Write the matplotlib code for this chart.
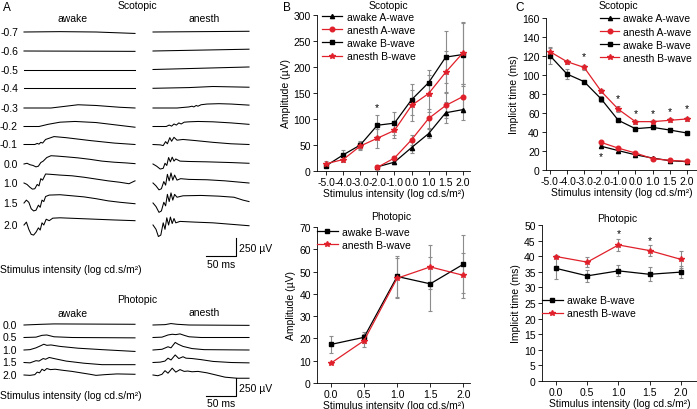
import matplotlib
matplotlib.use('Agg')
import matplotlib.pyplot as plt
from matplotlib.transforms import Affine2D

plt.rcParams['font.family'] = ['Liberation Sans', 'DejaVu Sans']
plt.rcParams['font.size'] = 7.5

# ---------- данные: ERG кривые (мс, мкВ) ----------
scot_rows = ['-0.7', '-0.6', '-0.5', '-0.4', '-0.3', '-0.2', '-0.1', '0.0', '1.0', '1.5', '2.0']
scot_awake_traces = [
    [(0, 0), (60, 5), (120, 0), (185, -20)],
    [(0, 0), (185, -5)],
    [(0, 0), (185, 0)],
    [(0, 0), (185, 0)],
    [(0, 0), (45, 0), (70, 25), (90, 45), (120, 35), (160, 10), (185, 0)],
    [(0, 0), (25, 0), (40, 30), (60, 60), (85, 70), (120, 55), (160, 15), (185, -10)],
    [(0, 0), (18, 0), (22, 15), (25, 5), (28, 30), (31, 20), (36, 70), (50, 110), (70, 95), (110, 55), (150, 20), (185, 0)],
    [(0, 0), (5, 10), (10, -10), (15, -20), (20, -40), (24, -30), (28, 20), (32, 40), (38, 90), (45, 115), (55, 110),
     (70, 100), (90, 85), (110, 65), (130, 40), (150, 25), (170, 15), (185, 5)],
    [(0, 0), (5, -20), (10, -60), (14, -85), (18, -80), (22, -20), (25, -40), (28, 60), (31, 40), (36, 125), (45, 120),
     (60, 110), (80, 100), (100, 80), (120, 55), (140, 30), (160, 10), (175, -10), (180, 10), (185, 30)],
    [(0, 0), (4, 40), (8, 10), (12, -80), (16, -110), (20, -100), (24, -30), (27, -60), (30, 40), (33, 20), (36, 90),
     (42, 110), (60, 115), (80, 100), (100, 85), (120, 60), (140, 30), (160, 10), (185, -10)],
    [(0, 0), (4, 40), (8, -60), (12, -130), (16, -140), (20, -100), (24, -40), (27, -70), (30, 30), (33, 0), (37, 80),
     (42, 60), (48, 95), (60, 100), (90, 90), (120, 80), (150, 70), (185, 60)],
]
scot_anesth_traces = [
    [(0, 0), (160, 10)],
    [(0, 0), (160, 25)],
    [(0, 0), (160, 35)],
    [(0, 0), (60, 10), (100, 25), (160, 15)],
    [(0, 0), (40, 0), (60, 15), (65, 25), (68, 15), (72, 35), (75, 25), (80, 45), (90, 55), (110, 60), (130, 55), (160, 40)],
    [(0, 0), (22, 0), (27, 20), (31, 5), (35, 35), (39, 20), (43, 50), (47, 35), (52, 60), (60, 65), (75, 70),
     (100, 65), (130, 50), (160, 30)],
    [(0, 0), (12, -5), (17, -15), (21, 40), (24, 10), (28, 95), (31, 45), (35, 100), (40, 60), (50, 70), (70, 55),
     (100, 30), (130, 10), (160, 0)],
    [(0, 0), (6, -30), (12, -70), (17, -60), (20, 10), (23, -20), (26, 90), (29, 30), (32, 95), (35, 40), (38, 70),
     (45, 40), (60, 35), (90, 30), (130, 20), (160, 10)],
    [(0, 0), (5, -40), (10, -95), (14, -80), (18, 20), (21, -30), (24, 120), (27, 30), (30, 140), (33, 40), (36, 110),
     (40, 40), (46, 60), (60, 50), (90, 45), (120, 30), (160, 0)],
    [(0, 0), (5, -50), (10, -130), (14, -110), (18, 10), (21, -40), (24, 120), (27, 20), (30, 140), (33, 40), (36, 120),
     (40, 80), (50, 100), (80, 105), (110, 95), (135, 80), (150, 40), (160, 20)],
    [(0, 0), (5, -60), (9, -160), (13, -140), (17, 30), (20, -60), (23, 100), (26, 0), (29, 110), (32, 20), (35, 90),
     (38, 30), (45, 50), (70, 40), (100, 30), (130, 10), (160, -10)],
]
phot_rows = ['0.0', '0.5', '1.0', '1.5', '2.0']
phot_awake_traces = [
    [(0, 0), (30, 10), (50, 15), (185, 10)],
    [(0, 0), (20, 5), (30, 30), (38, 35), (50, 10), (80, 0), (185, -5)],
    [(0, 0), (10, 5), (20, 30), (28, 60), (33, 80), (38, 65), (45, 70), (60, 50), (90, 25), (130, 5), (185, -20)],
    [(0, 0), (10, -5), (20, 25), (25, 20), (32, 55), (36, 45), (42, 70), (50, 55), (70, 20), (100, -10), (130, -30), (185, -30)],
    [(0, 0), (10, -5), (18, 5), (22, 40), (26, 30), (30, 80), (34, 60), (38, 90), (44, 75), (52, 80), (65, 65), (80, 50),
     (95, 30), (110, 10), (120, -5), (135, 5), (155, 15), (185, 10)],
]
phot_anesth_traces = [
    [(0, 0), (20, 5), (30, 20), (40, 10), (60, 0), (160, -5)],
    [(0, 0), (15, 5), (25, 35), (32, 45), (38, 40), (45, 50), (52, 30), (60, 10), (80, 0), (160, 0)],
    [(0, 0), (15, 10), (25, 45), (30, 30), (37, 105), (42, 80), (50, 50), (65, 20), (85, 5), (160, 0)],
    [(0, 0), (12, 5), (20, 20), (25, 60), (30, 35), (37, 105), (43, 55), (50, 80), (55, 60), (65, 55), (80, 40),
     (100, 15), (130, 0), (160, -5)],
    [(0, 0), (8, -10), (15, 10), (20, 60), (25, 25), (32, 95), (38, 40), (45, 75), (52, 50), (58, 55), (65, 45),
     (75, 50), (90, 30), (105, 0), (120, -30), (140, -45), (160, -45)],
]

# ---------- данные: амплитуды и латентности ----------
scot_x = ['-5.0', '-4.0', '-3.0', '-2.0', '-1.0', '0.0', '1.0', '1.5', '2.0']
a_wave_idx = [3, 4, 5, 6, 7, 8]

amp_awake_b = [10, 31, 50, 88, 92, 137, 170, 219, 224]
amp_awake_b_err = [5, 10, 7, 20, 22, 30, 24, 50, 60]
amp_anesth_b = [14, 22, 48, 63, 78, 126, 149, 190, 227]
amp_anesth_b_err = [5, 5, 7, 18, 15, 30, 35, 40, 60]
amp_awake_a = [8, 17, 45, 72, 112, 118]
amp_awake_a_err = [3, 3, 10, 8, 20, 20]
amp_anesth_a = [7, 25, 60, 101, 126, 143]
amp_anesth_a_err = [3, 4, 10, 18, 25, 25]

phot_x = ['0.0', '0.5', '1.0', '1.5', '2.0']
pamp_awake = [17.3, 20.5, 47.8, 44.5, 53.3]
pamp_awake_err = [3.7, 2.5, 9, 12, 13]
pamp_anesth = [8.9, 19, 47, 52.1, 48.3]
pamp_anesth_err = [0.5, 3, 9, 10, 10]

it_awake_b = [120.4, 101, 93, 74.7, 52.3, 43.5, 44.9, 42.1, 39]
it_awake_b_err = [9, 5, 1.5, 3, 2, 2, 2, 2, 2]
it_anesth_b = [124.6, 114, 108, 82.8, 63.9, 50.9, 50.9, 52.3, 53.7]
it_anesth_b_err = [4, 2, 3, 2, 3, 2, 2, 2, 2]
it_awake_a = [25, 20.4, 16, 12.6, 9.8, 8.8]
it_awake_a_err = [1, 1, 1, 1, 1, 1]
it_anesth_a = [29, 23, 17.9, 11.9, 10.2, 9.1]
it_anesth_a_err = [1, 1, 1, 1, 1, 1]
it_star_idx = [2, 4, 5, 6, 7, 8, 3]
it_star_y = [120, 76, 60, 60, 62, 65, 15]

pit_awake = [36.1, 33.7, 35.3, 34.2, 34.9]
pit_awake_err = [3.3, 2, 1.8, 2.2, 1.8]
pit_anesth = [39.9, 38.1, 43.6, 41.8, 39.0]
pit_anesth_err = [0.5, 1.5, 1.8, 1.7, 2.8]
pit_star_idx = [2, 3]
pit_star_y = [47.4, 45.3]

RED = '#e0202a'
GRAY = '#8c8c8c'
PX_MS = 0.6     # пикселей на мс
PX_UV = 0.072   # пикселей на мкВ
XLABEL = 'Stimulus intensity (log cd.s/m²)'

W, H = 697, 410
fig = plt.figure(figsize=(W / 100, H / 100), dpi=100)


def box(l, t, r, b):
    return [l / W, (H - b) / H, (r - l) / W, (b - t) / H]


def style(ax):
    for s in ['top', 'right']:
        ax.spines[s].set_visible(False)
    for s in ['left', 'bottom']:
        ax.spines[s].set_linewidth(0.6)
    ax.tick_params(length=3, width=0.6, pad=1.5, labelsize=7.5)


def series(ax, x, y, err, color, marker, ms, label):
    ax.errorbar(x, y, yerr=err, fmt='none', ecolor=GRAY, elinewidth=0.8, capsize=1.5, capthick=0.8, zorder=1)
    ax.plot(x, y, color=color, marker=marker, ms=ms, lw=0.9, label=label, zorder=2)


def legend(ax, x, y, hl=2.0):
    ax.legend(loc='upper left', bbox_to_anchor=(x, y), frameon=False, fontsize=7.5,
              labelspacing=0.3, handlelength=hl, handletextpad=0.4, borderpad=0, borderaxespad=0)


# B: амплитуда, скотопика
ax1 = fig.add_axes(box(317, 16, 470, 172))
style(ax1)
idx = list(range(len(scot_x)))
series(ax1, a_wave_idx, amp_awake_a, amp_awake_a_err, 'black', '^', 3, 'awake A-wave')
series(ax1, a_wave_idx, amp_anesth_a, amp_anesth_a_err, RED, 'o', 3.3, 'anesth A-wave')
series(ax1, idx, amp_awake_b, amp_awake_b_err, 'black', 's', 3.3, 'awake B-wave')
series(ax1, idx, amp_anesth_b, amp_anesth_b_err, RED, '*', 4, 'anesth B-wave')
ax1.text(3, 122, '*', ha='center', va='center')
ax1.set_xlim(-0.53, 8.42)
ax1.set_ylim(0, 300)
ax1.set_yticks(range(0, 301, 50))
ax1.set_xticks(idx)
ax1.set_xticklabels(scot_x)
ax1.set_ylabel('Amplitude (µV)', labelpad=2)
legend(ax1, 0.03, 1.02)

# B: амплитуда, фотопика
ax2 = fig.add_axes(box(317, 228, 470, 384))
style(ax2)
pidx = list(range(len(phot_x)))
series(ax2, pidx, pamp_awake, pamp_awake_err, 'black', 's', 3.3, 'awake B-wave')
series(ax2, pidx, pamp_anesth, pamp_anesth_err, RED, '*', 4, 'anesth B-wave')
ax2.set_xlim(-0.42, 4.2)
ax2.set_ylim(0, 70)
ax2.set_yticks(range(0, 71, 10))
ax2.set_xticks(pidx)
ax2.set_xticklabels(phot_x)
ax2.set_ylabel('Amplitude (µV)', labelpad=2)
legend(ax2, 0.0, 1.0)

# C: латентность, скотопика
ax3 = fig.add_axes(box(546, 19, 697, 171))
style(ax3)
series(ax3, a_wave_idx, it_awake_a, it_awake_a_err, 'black', '^', 3, 'awake A-wave')
series(ax3, a_wave_idx, it_anesth_a, it_anesth_a_err, RED, 'o', 3.3, 'anesth A-wave')
series(ax3, idx, it_awake_b, it_awake_b_err, 'black', 's', 3.3, 'awake B-wave')
series(ax3, idx, it_anesth_b, it_anesth_b_err, RED, '*', 4, 'anesth B-wave')
for i, yv in zip(it_star_idx, it_star_y):
    ax3.text(i, yv, '*', ha='center', va='center')
ax3.set_xlim(-0.23, 8.6)
ax3.set_ylim(0, 160)
ax3.set_yticks(range(0, 161, 20))
ax3.set_xticks(idx)
ax3.set_xticklabels(scot_x)
ax3.set_ylabel('Implicit time (ms)', labelpad=2)
legend(ax3, 0.36, 1.03, hl=1.8)

# C: латентность, фотопика
ax4 = fig.add_axes(box(542, 226, 697, 382))
style(ax4)
series(ax4, pidx, pit_awake, pit_awake_err, 'black', 's', 3.3, 'awake B-wave')
series(ax4, pidx, pit_anesth, pit_anesth_err, RED, '*', 4, 'anesth B-wave')
for i, yv in zip(pit_star_idx, pit_star_y):
    ax4.text(i, yv, '*', ha='center', va='center')
ax4.set_xlim(-0.45, 4.52)
ax4.set_ylim(0, 50)
ax4.set_yticks(range(0, 51, 5))
ax4.set_xticks(pidx)
ax4.set_xticklabels(phot_x)
ax4.set_ylabel('Implicit time (ms)', labelpad=2)
legend(ax4, 0.0, 0.55)

for ax in [ax1, ax2, ax3, ax4]:
    ax.set_xlabel(XLABEL, labelpad=0.5)

# слой в пикселях: панель A и подписи
ov = fig.add_axes([0, 0, 1, 1])
ov.set_xlim(0, W)
ov.set_ylim(H, 0)
ov.set_axis_off()
ov.patch.set_visible(False)


def trace(pts, x0, y0):
    t = [p[0] for p in pts]
    v = [p[1] for p in pts]
    tr = Affine2D().scale(PX_MS, -PX_UV).translate(x0, y0) + ov.transData
    ov.plot(t, v, transform=tr, color='black', lw=0.75)


scot_row_y = [33, 52, 70.5, 89.3, 109, 127.5, 145.5, 165, 184, 204, 226]
phot_row_y = [326, 338.5, 351, 363.5, 376]

for lab, yv, aw, an in zip(scot_rows, scot_row_y, scot_awake_traces, scot_anesth_traces):
    ov.text(18, yv, lab, ha='right', va='center')
    trace(aw, 24, yv)
    trace(an, 153, yv)
for lab, yv, aw, an in zip(phot_rows, phot_row_y, phot_awake_traces, phot_anesth_traces):
    ov.text(17, yv, lab, ha='right', va='center')
    trace(aw, 24, yv)
    trace(an, 153, yv)

# масштабные отрезки
for yb, ytxt, yms in [(257, 249, 265), (397, 389.5, 404)]:
    sb = Affine2D().scale(PX_MS, -PX_UV).translate(235.5, yb) + ov.transData
    ov.plot([-50, 0, 0], [0, 0, 250], transform=sb, color='black', lw=0.8)
    ov.text(239, ytxt, '250 µV', ha='left', va='center')
    ov.text(221, yms, '50 ms', ha='center', va='center')

ov.text(3, 8, 'A', fontsize=8.5, ha='left', va='center')
ov.text(283, 8, 'B', fontsize=8.5, ha='left', va='center')
ov.text(515, 8, 'C', fontsize=8.5, ha='left', va='center')
ov.text(137, 6, 'Scotopic', ha='center', va='center')
ov.text(73, 19, 'awake', ha='center', va='center')
ov.text(204, 19, 'anesth', ha='center', va='center')
ov.text(0, 270, XLABEL, ha='left', va='center')
ov.text(137, 300, 'Photopic', ha='center', va='center')
ov.text(73, 314, 'awake', ha='center', va='center')
ov.text(204, 313, 'anesth', ha='center', va='center')
ov.text(0, 396, XLABEL, ha='left', va='center')
ov.text(388, 6, 'Scotopic', ha='center', va='center')
ov.text(391, 217, 'Photopic', ha='center', va='center')
ov.text(618, 6, 'Scotopic', ha='center', va='center')
ov.text(617, 219, 'Photopic', ha='center', va='center')

fig.savefig('out.png', dpi=100)
